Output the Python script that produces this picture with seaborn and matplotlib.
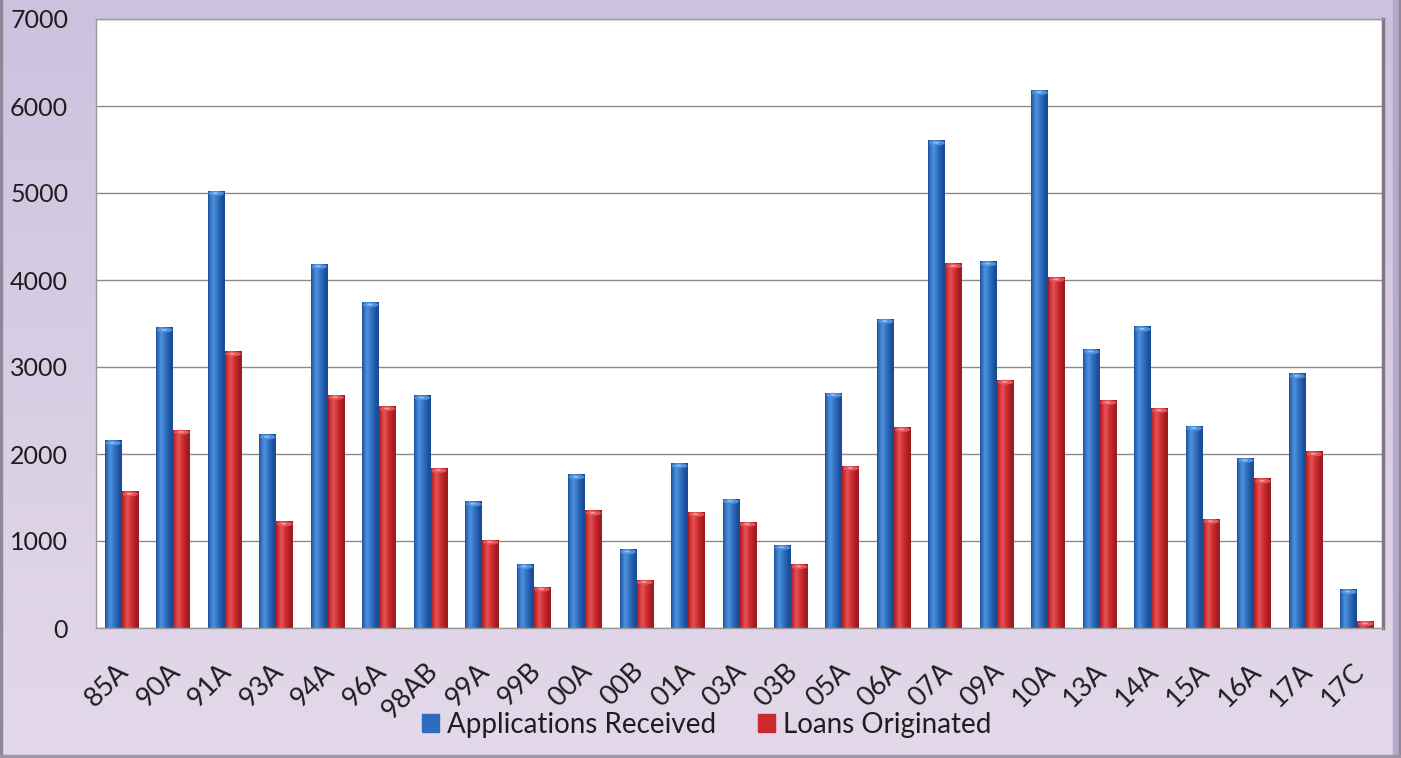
import numpy as np
import pandas as pd
import matplotlib
matplotlib.use("Agg")
import matplotlib.pyplot as plt
from matplotlib.colors import to_rgb
from matplotlib.patches import Rectangle, Ellipse
from matplotlib.transforms import ScaledTranslation
import seaborn as sns

categories = ["85A", "90A", "91A", "93A", "94A", "96A", "98AB", "99A", "99B", "00A",
              "00B", "01A", "03A", "03B", "05A", "06A", "07A", "09A", "10A", "13A",
              "14A", "15A", "16A", "17A", "17C"]
applications = [2150, 3450, 5020, 2220, 4180, 3740, 2670, 1450, 730, 1760,
                900, 1890, 1480, 950, 2700, 3550, 5600, 4210, 6180, 3200,
                3460, 2320, 1950, 2920, 440]
loans = [1565, 2275, 3175, 1220, 2675, 2545, 1835, 1010, 470, 1345,
         550, 1330, 1215, 730, 1860, 2305, 4185, 2850, 4030, 2615,
         2525, 1250, 1715, 2025, 75]
series_names = ["Applications Received", "Loans Originated"]
yticks = [0, 1000, 2000, 3000, 4000, 5000, 6000, 7000]

df = pd.DataFrame({
    "cat": categories * 2,
    "value": applications + loans,
    "series": [series_names[0]] * len(categories) + [series_names[1]] * len(categories),
})

sns.set_theme(style="white")
plt.rcParams['font.family'] = ['Lato', 'DejaVu Sans']

W, H = 1401, 758
fig = plt.figure(figsize=(W / 100, H / 100), dpi=100)

# background gradient
bg = fig.add_axes([0, 0, 1, 1], zorder=-10)
top_c = np.array(to_rgb("#CCC2DE"))
bot_c = np.array(to_rgb("#E4D9EA"))
t = np.linspace(0, 1, 256)[:, None]
grad = top_c[None, :] * (1 - t) + bot_c[None, :] * t
bg.imshow(grad[:, None, :].repeat(2, axis=1), aspect="auto", extent=[0, 1, 0, 1])
bg.set_xlim(0, 1); bg.set_ylim(0, 1)
bg.axis("off")
bg.add_patch(Rectangle((0, 0), 2 / W, 1, color="#8E8898", transform=bg.transAxes))
bg.add_patch(Rectangle((1 - 8 / W, 0), 8 / W, 1, color="#B6AAC9", transform=bg.transAxes))
bg.add_patch(Rectangle((1 - 2 / W, 0), 2 / W, 1, color="#8E8898", transform=bg.transAxes))
bg.add_patch(Rectangle((0, 0), 1, 3 / H, color="#9E96A8", transform=bg.transAxes))

left, right, top, bottom = 96, 1383, 19, 628
ax = fig.add_axes([left / W, (H - bottom) / H, (right - left) / W, (bottom - top) / H])
ax.set_facecolor("white")

palette = {series_names[0]: "#2E6DBE", series_names[1]: "#CC2A2E"}
sns.barplot(data=df, x="cat", y="value", hue="series", palette=palette,
            width=0.66, ax=ax, legend=False, saturation=1, linewidth=0)

ax.set_ylim(0, 7000)
xlim = ax.get_xlim()

schemes = [
    ("#1B4C96", "#2E6DBE", "#4F91DD", "#8FC0F0"),
    ("#9E1B1F", "#CC2A2E", "#E35357", "#F29A9C"),
]
pos = [0.0, 0.1, 0.32, 0.6, 0.88, 1.0]
for cont, (dark, base, light, cap) in zip(ax.containers, schemes):
    d, b, l = (np.array(to_rgb(c)) for c in (dark, base, light))
    cols = [d, b, l, b, d * 0.95 + b * 0.05, d]
    xs = np.linspace(0, 1, 64)
    img = np.stack([np.interp(xs, pos, [c[k] for c in cols]) for k in range(3)], axis=-1)
    img = img[None, :, :]
    for p in cont.patches:
        x0, w, h = p.get_x(), p.get_width(), p.get_height()
        p.set_alpha(0)
        ax.imshow(img, extent=[x0, x0 + w, 0, h], aspect="auto", zorder=2.1,
                  interpolation="bilinear")
        ax.add_patch(Ellipse((x0 + w / 2, h - 25), w * 0.92, 55, color=light, zorder=2.2, lw=0))
        ax.add_patch(Ellipse((x0 + w * 0.45, h - 22), w * 0.35, 22, color=cap, zorder=2.3, lw=0))

ax.set_xlim(xlim)
ax.set_ylim(0, 7000)
ax.set_yticks(yticks)
ax.set_yticklabels([str(v) for v in yticks])
ax.grid(axis="y", color="#8A8A8A", linewidth=1.0)
ax.grid(axis="x", visible=False)
ax.set_axisbelow(True)
ax.set_xlabel("")
ax.set_ylabel("")
ax.tick_params(axis="y", length=0, pad=20, labelsize=18, labelcolor="#1E1E1E")
ax.tick_params(axis="x", length=0, pad=22, labelsize=19.5, labelcolor="#1E1E1E")
shift = ScaledTranslation(12 / 100, 0, fig.dpi_scale_trans)
for lab in ax.get_xticklabels():
    lab.set_rotation(45)
    lab.set_ha("right")
    lab.set_transform(lab.get_transform() + shift)
for side in ["left", "top", "bottom"]:
    ax.spines[side].set_color("#9A9A9A")
    ax.spines[side].set_linewidth(1.0)
ax.spines["right"].set_color("#7E7888")
ax.spines["right"].set_linewidth(2.5)

handles = [Rectangle((0, 0), 1, 1, color=palette[s]) for s in series_names]
fig.legend(handles, series_names, loc="center", bbox_to_anchor=(707 / W, 1 - 725 / H),
           ncol=2, frameon=False, fontsize=20, handlelength=0.6, handleheight=0.6,
           handletextpad=0.3, columnspacing=1.5, labelcolor="#1E1E1E")

fig.savefig("out.png", dpi=100)
